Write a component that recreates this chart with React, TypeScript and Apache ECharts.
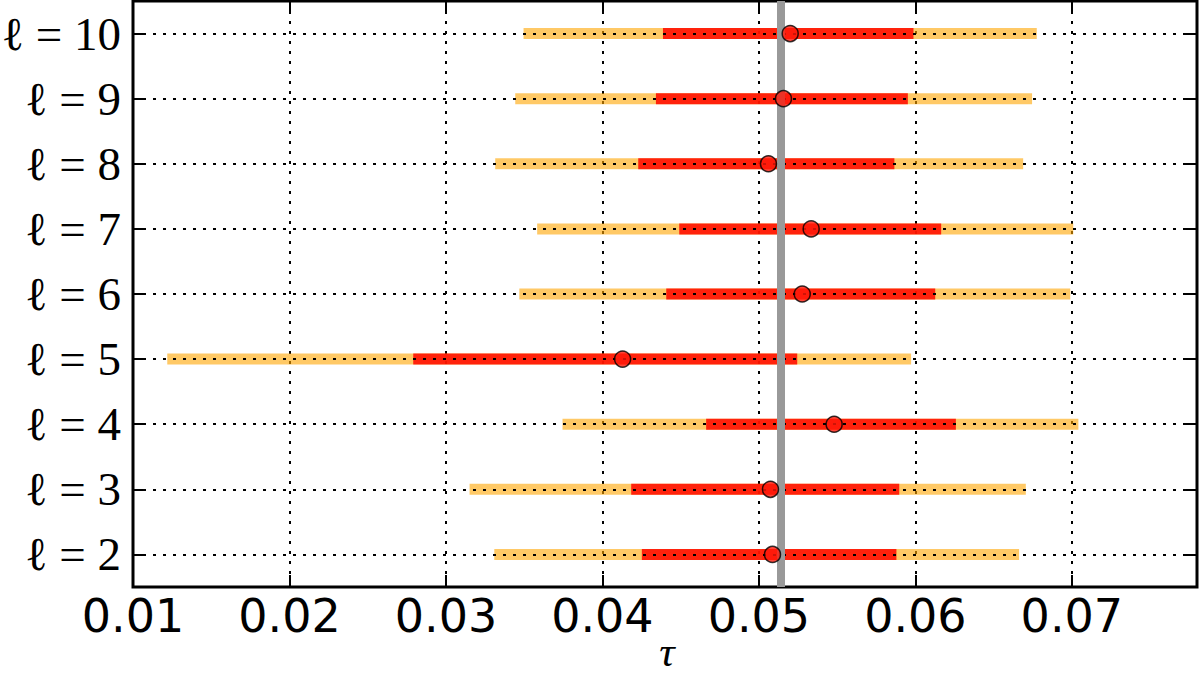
import React, { useEffect, useRef } from "react";
import * as echarts from "echarts";

const ells = [2, 3, 4, 5, 6, 7, 8, 9, 10];
const center = [0.05087, 0.05074, 0.05481, 0.04129, 0.05277, 0.05334, 0.05061, 0.05157, 0.0520];
const lo68 = [0.04252, 0.04184, 0.04663, 0.02791, 0.04408, 0.04491, 0.04229, 0.04342, 0.04387];
const hi68 = [0.05879, 0.05897, 0.06259, 0.05245, 0.06127, 0.06165, 0.05866, 0.05952, 0.05988];
const lo95 = [0.03309, 0.03151, 0.03745, 0.01219, 0.03469, 0.03583, 0.03315, 0.03443, 0.03496];
const hi95 = [0.06663, 0.06706, 0.07042, 0.05973, 0.06990, 0.07009, 0.06689, 0.06746, 0.06776];
const refValue = 0.05139;
const xTicks = [0.01, 0.02, 0.03, 0.04, 0.05, 0.06, 0.07];
const xTitle = "τ";

const dotted = { color: "#000", type: [3, 7] as number[], width: 2 };

function barRenderer(fill: string) {
  return (params: any, api: any) => {
    const y = api.value(2);
    const p1 = api.coord([api.value(0), y]);
    const p2 = api.coord([api.value(1), y]);
    const h = 11;
    return {
      type: "rect",
      shape: { x: p1[0], y: p1[1] - h / 2, width: p2[0] - p1[0], height: h },
      style: { fill },
    };
  };
}

export default function App() {
  const ref = useRef<HTMLDivElement>(null);
  useEffect(() => {
    if (!ref.current) return;
    const chart = echarts.init(ref.current, undefined, { renderer: "svg" });
    const tickStyle = { show: true, inside: true, length: 12, lineStyle: { color: "#000", width: 2 } };
    chart.setOption({
      animation: false,
      grid: {
        left: 133, right: 3, top: 1, bottom: 88,
        containLabel: false, outerBoundsMode: "none",
        show: true, borderColor: "#000", borderWidth: 3, backgroundColor: "transparent",
      },
      graphic: [
        {
          type: "text",
          x: 667,
          y: 651,
          style: {
            text: xTitle,
            fontFamily: "Liberation Serif",
            fontStyle: "italic",
            fontSize: 43,
            lineHeight: 30,
            fill: "#000",
            align: "center",
            verticalAlign: "middle",
          },
        },
      ],
      xAxis: [
        {
          type: "value",
          min: 0.01,
          max: 0.078,
          interval: 0.01,
          axisLine: { show: false },
          axisTick: tickStyle,
          splitLine: { show: true, lineStyle: dotted },
          axisLabel: {
            showMaxLabel: false,
            margin: 6,
            fontFamily: "DejaVu Sans",
            fontSize: 46,
            color: "#000",
            formatter: (v: number) => (xTicks.some((t) => Math.abs(t - v) < 1e-9) ? v.toFixed(2) : ""),
          },
        },
        {
          type: "value",
          position: "top",
          min: 0.01,
          max: 0.078,
          interval: 0.01,
          axisLine: { show: false },
          axisTick: tickStyle,
          splitLine: { show: false },
          axisLabel: { show: false },
        },
      ],
      yAxis: [
        {
          type: "value",
          min: 1.5,
          max: 10.5,
          axisLine: { show: false },
          axisTick: { ...tickStyle, customValues: ells },
          splitLine: { show: false },
          axisLabel: {
            customValues: ells,
            margin: 12,
            fontFamily: "Liberation Serif",
            fontSize: 47,
            color: "#000",
            formatter: (v: number) => "ℓ = " + v,
          },
        },
        {
          type: "value",
          position: "right",
          min: 1.5,
          max: 10.5,
          axisLine: { show: false },
          axisTick: { ...tickStyle, customValues: ells },
          splitLine: { show: false },
          axisLabel: { show: false, customValues: ells },
        },
      ],
      series: [
        {
          type: "line",
          data: [],
          z: 1,
          silent: true,
          markLine: {
            silent: true,
            symbol: "none",
            precision: 6,
            label: { show: false },
            lineStyle: dotted,
            data: ells.map((e) => ({ yAxis: e })),
          },
        },
        {
          type: "custom",
          z: 2,
          renderItem: barRenderer("rgba(255,165,0,0.6)"),
          encode: { x: [0, 1], y: 2 },
          data: ells.map((e, i) => [lo95[i], hi95[i], e]),
        },
        {
          type: "custom",
          z: 3,
          renderItem: barRenderer("rgba(255,10,0,0.88)"),
          encode: { x: [0, 1], y: 2 },
          data: ells.map((e, i) => [lo68[i], hi68[i], e]),
        },
        {
          type: "line",
          data: [],
          z: 4,
          silent: true,
          markLine: {
            silent: true,
            symbol: "none",
            precision: 6,
            label: { show: false },
            lineStyle: { color: "#999", type: "solid", width: 8 },
            data: [{ xAxis: refValue }],
          },
        },
        {
          type: "scatter",
          z: 5,
          symbol: "circle",
          symbolSize: 16,
          itemStyle: { color: "rgb(255,25,10)", borderColor: "#000", borderWidth: 1.5 },
          data: ells.map((e, i) => [center[i], e]),
        },
      ],
    });
    return () => chart.dispose();
  }, []);
  return <div ref={ref} style={{ width: 1200, height: 675, position: "absolute", left: 0, top: 0, background: "#fff" }} />;
}
